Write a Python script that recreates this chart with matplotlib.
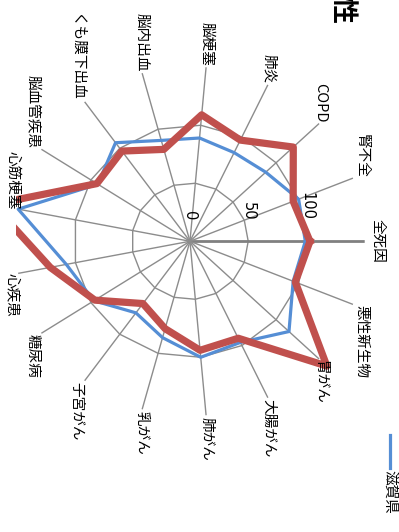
import matplotlib

matplotlib.use("Agg")
import matplotlib.pyplot as plt
import numpy as np
from matplotlib.lines import Line2D
from matplotlib.patches import Rectangle

plt.rcParams["font.family"] = ["Noto Sans CJK JP", "DejaVu Sans"]

# data (standardised mortality ratio, women)
categories = ["全死因", "悪性新生物", "胃がん", "大腸がん", "肺がん", "乳がん", "子宮がん",
              "糖尿病", "心疾患", "心筋梗塞", "脳血管疾患", "くも膜下出血", "脳内出血",
              "脳梗塞", "肺炎", "COPD", "腎不全"]
shiga = [99, 95, 115, 97, 100, 86, 77, 97, 108, 150, 93, 106, 90, 89, 85, 88, 100]
area = [103, 97, 159, 93, 94, 78, 67, 96, 122, 172, 94, 97, 82, 109, 97, 120, 95]
ring_values = [50, 100]
tick_values = [0, 50, 100]
rmax = 150

blue = "#558ED5"
red = "#C0504D"
grid = "#8C8C8C"

n = len(categories)
theta = np.arange(n) * 2 * np.pi / n
closed = np.append(theta, theta[0])

fig = plt.figure(figsize=(3.99, 5.32), dpi=100)
# chart is rotated by 90 degrees: first axis points right, clockwise order
ax = fig.add_axes([0.0376, 0.218, 0.877, 0.657], projection="polar")
ax.set_theta_zero_location("E")
ax.set_theta_direction(-1)
ax.set_ylim(0, rmax)
ax.grid(False)
ax.spines["polar"].set_visible(False)
ax.set_xticks([])
ax.set_yticks([])
ax.patch.set_alpha(0)

# polygon gridlines and spokes
for rv in ring_values:
    ax.plot(closed, [rv] * (n + 1), color=grid, lw=1.0, zorder=1)
for i, t in enumerate(theta):
    if i == 0:
        ax.plot([t, t], [0, rmax], color="#808080", lw=2.0, zorder=1)
    else:
        ax.plot([t, t], [0, rmax], color=grid, lw=1.0, zorder=1)

# the plot area of the original cuts the lines off near the left edge
plot_area = Rectangle((16 / 399, 0), 1, 1, transform=fig.transFigure)
l1, = ax.plot(closed, shiga + shiga[:1], color=blue, lw=2.3, zorder=3)
l2, = ax.plot(closed, area + area[:1], color=red, lw=5.2, zorder=4)
for ln in (l1, l2):
    ln.set_clip_path(plot_area)

# value labels along the first axis
for tv in tick_values:
    ax.annotate(str(tv), xy=(0, tv), xytext=(0, 15), textcoords="offset points",
                rotation=-90, ha="center", va="bottom", fontsize=10.5,
                family=["DejaVu Sans"], color="#000000")

# category labels
for t, lab in zip(theta, categories):
    c, s = np.cos(t), np.sin(t)
    if c > 0.8:
        ha = "left"
    elif c < -0.55:
        ha = "right"
    else:
        ha = "center"
    if abs(s) < 0.1:
        va = "center"
    elif s > 0:
        va = "top"
    else:
        va = "bottom"
    if abs(s) < 0.1:
        r_lab = rmax + 5
    elif c < -0.9:
        r_lab = rmax - 1
    else:
        r_lab = rmax + 1.5
    ax.text(t, r_lab, lab, rotation=-90, ha=ha, va=va, fontsize=10.5, zorder=5)

# title (mostly cut off at top, as in the reference)
fig.text(341 / 399, 1 - 25 / 532, "女性", rotation=-90, ha="center", va="bottom",
         fontsize=19, fontweight="bold")

# legend, rotated
fig.add_artist(Line2D([390 / 399, 390 / 399], [1 - 435 / 532, 1 - 468 / 532],
                      color=blue, lw=2.3))
fig.text(390 / 399, 1 - 470 / 532, "滋賀県", rotation=-90, ha="center", va="top",
         fontsize=10.5)

plt.savefig("out.png", dpi=100)
plt.close()
